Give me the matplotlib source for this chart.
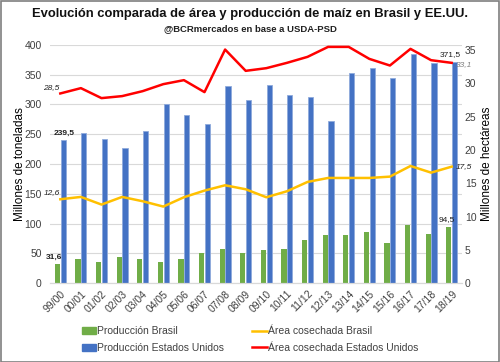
import matplotlib
matplotlib.use("Agg")
import matplotlib.pyplot as plt
import numpy as np
from matplotlib.patches import Rectangle
from matplotlib.lines import Line2D
from matplotlib.patches import Patch

campanias = ["99/00", "00/01", "01/02", "02/03", "03/04", "04/05", "05/06", "06/07", "07/08", "08/09",
             "09/10", "10/11", "11/12", "12/13", "13/14", "14/15", "15/16", "16/17", "17/18", "18/19"]
prod_brasil = [31.6, 41, 35, 43.5, 41, 35, 41, 51, 58, 51, 56, 57, 73, 81, 80, 85, 67, 98, 82, 94.5]
prod_eeuu = [239.5, 252, 241.5, 227, 256, 300, 282, 267, 331, 307, 332, 315.5, 313, 273, 352, 361, 345, 385, 370, 371.5]
area_brasil = [12.6, 12.95, 11.8, 12.95, 12.3, 11.5, 12.9, 13.9, 14.7, 14.1, 12.9, 13.8, 15.2, 15.8, 15.8, 15.8, 16.0, 17.6, 16.6, 17.5]
area_eeuu = [28.5, 29.3, 27.8, 28.1, 28.85, 29.9, 30.5, 28.7, 35.1, 31.9, 32.3, 33.1, 34.0, 35.5, 35.5, 33.7, 32.7, 35.2, 33.5, 33.1]

plt.rcParams['font.family'] = ['Liberation Sans', 'DejaVu Sans']
fig = plt.figure(figsize=(5.0, 3.62), dpi=100)
ax = fig.add_axes([0.10, 0.218, 0.824, 0.658])
ax2 = ax.twinx()

x = np.arange(len(campanias))
w = 0.25
ax.bar(x - 0.14, prod_brasil, w, color="#70AD47", zorder=2)
ax.bar(x + 0.14, prod_eeuu, w, color="#4472C4", edgecolor="#8FAADC", linewidth=0.6, zorder=2)
ax2.plot(x, area_brasil, color="#FFC000", lw=1.8, zorder=3)
ax2.plot(x, area_eeuu, color="#FF0000", lw=1.8, zorder=3)

ax.set_xlim(-0.5, len(campanias) - 0.5)
ax.set_ylim(0, 400)
ax2.set_ylim(0, 35.8)
ax.set_yticks(np.arange(0, 401, 50))
ax2.set_yticks(np.arange(0, 36, 5))
ax.yaxis.grid(True, color="#D9D9D9", lw=0.8, zorder=0)
ax.set_axisbelow(True)
for a in (ax, ax2):
    for s in ("top", "left", "right"):
        a.spines[s].set_visible(False)
    a.spines["bottom"].set_color("#D9D9D9")
    a.tick_params(length=0, labelsize=7.5, colors="#404040")
ax.tick_params(axis="y", pad=6)
ax2.tick_params(axis="y", pad=2)
ax.set_xticks(x)
ax.set_xticklabels(campanias, rotation=45, ha="right", rotation_mode="anchor", fontsize=7.5)
ax.tick_params(axis="x", pad=4)
ax.set_ylabel("Millones de toneladas", fontsize=8.5, labelpad=-1)
ax2.set_ylabel("Millones de hectáreas", fontsize=8.5, labelpad=3)

# data labels
lab = dict(fontsize=6, color="#202020")
ax.text(x[0] + 0.2, prod_eeuu[0] + 6, "239,5", ha="center", va="bottom", fontweight="bold", **lab)
ax.text(x[0] - 0.3, prod_brasil[0] + 6, "31,6", ha="center", va="bottom", fontweight="bold", **lab)
ax.text(x[-1] - 0.05, prod_eeuu[-1] + 6, "371,5", ha="center", va="bottom", **lab)
ax.text(x[-1] - 0.25, prod_brasil[-1] + 6, "94,5", ha="center", va="bottom", **lab)
ax2.text(x[0] - 0.03, area_brasil[0] + 0.5, "12,6", ha="right", va="bottom", style="italic", **lab)
ax2.text(x[0] - 0.03, area_eeuu[0] + 0.3, "28,5", ha="right", va="bottom", style="italic", **lab)
ax2.text(x[-1] + 0.22, area_eeuu[-1] - 0.3, "33,1", ha="left", va="center", style="italic",
         fontsize=6, color="#808080")
ax2.text(x[-1] + 0.22, area_brasil[-1], "17,5", ha="left", va="center", style="italic", **lab)

fig.text(0.5, 0.961, "Evolución comparada de área y producción de maíz en Brasil y EE.UU.",
         ha="center", va="center", fontsize=9.4, fontweight="bold", color="#111111")
fig.text(0.5, 0.922, "@BCRmercados en base a USDA-PSD", ha="center", va="center",
         fontsize=6.8, fontweight="bold", color="#202020")

handles = [Patch(color="#70AD47"), Patch(color="#4472C4"),
           Line2D([], [], color="#FFC000", lw=1.8), Line2D([], [], color="#FF0000", lw=1.8)]
labels = ["Producción Brasil", "Producción Estados Unidos",
          "Área cosechada Brasil", "Área cosechada Estados Unidos"]
fig.legend(handles, labels, ncol=2, loc="center", bbox_to_anchor=(0.5, 0.062), frameon=False,
           fontsize=7.5, handlelength=1.4, handleheight=0.6, handletextpad=0.1, columnspacing=2.7,
           labelspacing=0.65, labelcolor="#404040")

fig.patches.append(Rectangle((0.001, 0.001), 0.997, 0.996, transform=fig.transFigure,
                             fill=False, edgecolor="#7F7F7F", lw=1.2))
fig.savefig("out.png", dpi=100)
